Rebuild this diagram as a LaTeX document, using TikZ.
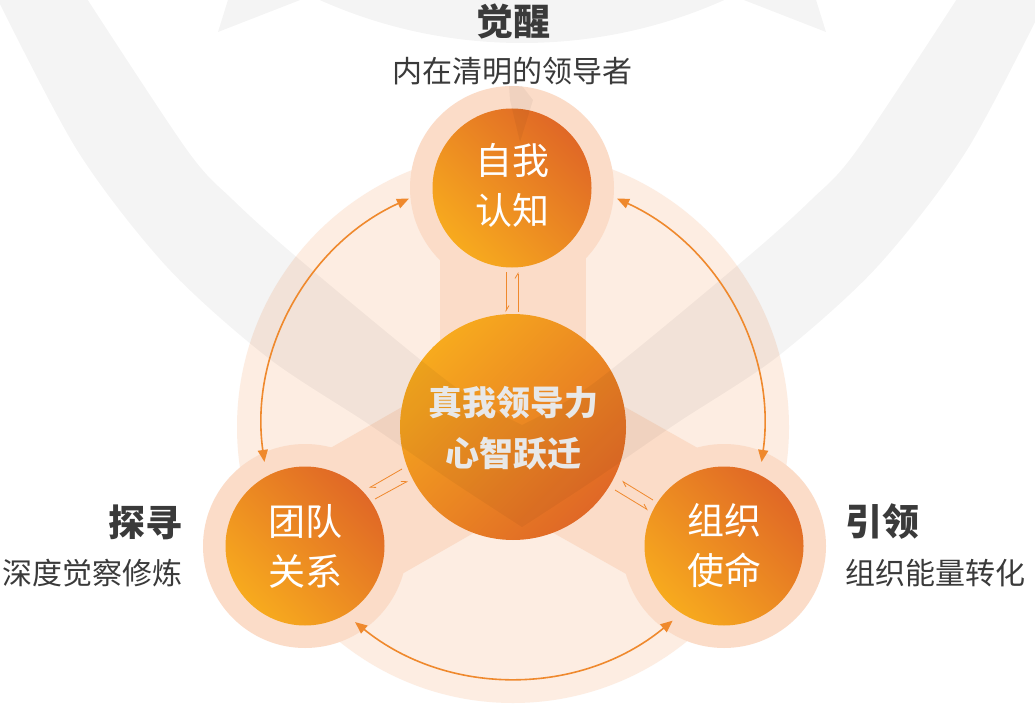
\documentclass[tikz,border=0pt]{standalone}
\usepackage{fontspec}
\newfontfamily\cjk{Noto Sans CJK SC}
\usetikzlibrary{arrows.meta}
\definecolor{paleO}{RGB}{253,237,226}
\definecolor{peach}{RGB}{251,220,200}
\definecolor{ylw}{RGB}{247,170,30}
\definecolor{rdo}{RGB}{224,104,38}
\definecolor{arr}{RGB}{239,137,45}
\definecolor{txt}{RGB}{58,58,58}
\definecolor{ctext}{RGB}{232,232,232}
\begin{document}
\begin{tikzpicture}[x=1pt,y=-1pt,
  halo/.style={circle, fill=peach, minimum size=204pt, inner sep=0pt},
  orb/.style={circle, inner sep=0pt, minimum size=#1, shading=axis, top color=ylw, bottom color=rdo, shading angle=135},
  coreorb/.style={circle, inner sep=0pt, minimum size=226pt, shading=axis, top color=ylw, bottom color=rdo, shading angle=45},
  wm/.style={fill=black, fill opacity=0.045},
  ctxt/.style={text=white, font=\cjk\fontsize{37}{50}\selectfont, align=center, inner sep=0pt},
  mtxt/.style={text=ctext, font=\cjk\bfseries\fontsize{34}{51}\selectfont, align=center, inner sep=0pt},
  ttl/.style={text=txt, font=\cjk\bfseries\fontsize{37}{40}\selectfont, inner sep=0pt},
  sub/.style={text=txt, font=\cjk\fontsize{30}{36}\selectfont, inner sep=0pt},
  biarc/.style={draw=arr, line width=1.6pt, {Triangle[length=12pt,width=10pt]}-{Triangle[length=12pt,width=10pt]}},
  harp/.style={draw=arr, line width=0.8pt, -{Straight Barb[harpoon,length=5pt,width=6pt]}}
]
\useasboundingbox (0,0) rectangle (1035,727);
\fill[white] (0,0) rectangle (1035,727);
\begin{scope}
\clip (0,0) rectangle (1035,727);
% pale disc
\fill[paleO] (513,427) circle (276);
% Y bands
\fill[peach] (439.5,188) rectangle (585.5,427);
\fill[peach] (549.1,489.8) -- (476.9,364.2) -- (268.9,483.2) -- (341.1,608.8) -- cycle;
\fill[peach] (476.9,489.8) -- (549.1,364.2) -- (760.1,483.2) -- (687.9,608.8) -- cycle;
% halos
\node[halo] (haloT) at (512,188) {};
\node[halo] (haloL) at (305,546) {};
\node[halo] (haloR) at (724,546) {};
% orbs
\node[orb=159pt] (self) at (512,188) {};
\node[orb=159pt] (team) at (305,546) {};
\node[orb=159pt] (mission) at (724,546) {};
\node[coreorb] (core) at (513,427) {};
% watermark
\fill[wm] plot[smooth] coordinates {(-8,-12) (77,150) (167,267) (267,357) (367,423) (450,480) (522,527)}
  -- plot[smooth] coordinates {(522,527) (594,480) (677,423) (777,357) (877,267) (967,150) (1052,-12)}
  -- plot[smooth] coordinates {(964,-12) (857,150) (811,200) (744,260) (594,383) (522,425)}
  -- plot[smooth] coordinates {(522,425) (450,383) (300,260) (233,200) (187,150) (80,-12)} -- cycle;
\fill[wm] (522,-453) circle (496);
\fill[wm] (218,32) -- (229.5,-5) -- (313,-5) -- cycle;
\fill[wm] (826,32) -- (814.5,-5) -- (731,-5) -- cycle;
\fill[wm] (509,86) -- (522,86) -- (533,100) -- (520,142) -- (510,100) -- cycle;
\end{scope}
% big double arrows
\path (core) ++(-114.5:251) coordinate (aLs);
\path (core) ++(-65.5:251) coordinate (aRs);
\path (core) ++(-231:251) coordinate (aBs);
\draw[biarc] (aLs) arc[start angle=-114.5, end angle=-188, radius=251];
\draw[biarc] (aRs) arc[start angle=-65.5, end angle=8, radius=251];
\draw[biarc] (aBs) arc[start angle=-231, end angle=-309.5, radius=251];
% small harpoons
\coordinate (h1a) at (506,272); \coordinate (h1b) at (506,312);
\coordinate (h2a) at (518,312); \coordinate (h2b) at (518,272);
\coordinate (h3a) at (402,469); \coordinate (h3b) at (369,488);
\coordinate (h4a) at (375,499); \coordinate (h4b) at (408,481);
\coordinate (h5a) at (653,500); \coordinate (h5b) at (622,481);
\coordinate (h6a) at (615,490); \coordinate (h6b) at (648,510);
\draw[harp] (h1a) -- (h1b);
\draw[harp] (h2a) -- (h2b);
\draw[harp] (h3a) -- (h3b);
\draw[harp] (h4a) -- (h4b);
\draw[harp] (h5a) -- (h5b);
\draw[harp] (h6a) -- (h6b);
% circle texts
\node[ctxt] (selftxt) at (512,185) {自我\\认知};
\node[ctxt] (teamtxt) at (305,546) {团队\\关系};
\node[ctxt] (misstxt) at (724,546) {组织\\使命};
\node[mtxt] (coretxt) at (513,428) {真我领导力\\心智跃迁};
% titles
\node[ttl] (t1) at (513,21) {觉醒};
\node[sub] (s1) at (512,71) {内在清明的领导者};
\node[ttl, anchor=east] (t2) at (183,522) {探寻};
\node[sub, anchor=east] (s2) at (183,573) {深度觉察修炼};
\node[ttl, anchor=west] (t3) at (845,522) {引领};
\node[sub, anchor=west] (s3) at (845,573) {组织能量转化};
\end{tikzpicture}
\end{document}
